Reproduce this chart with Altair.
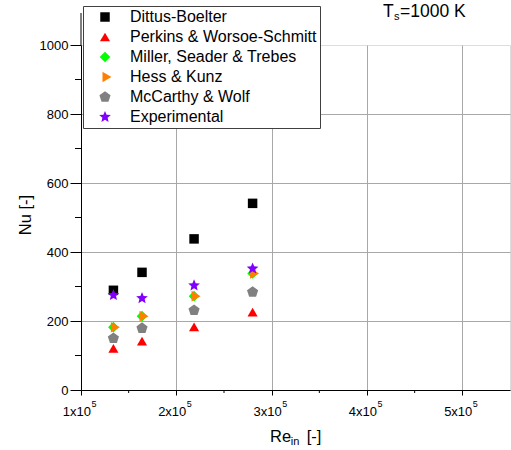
import altair as alt
import pandas as pd

# ---- data ----
re_in = [134000, 164000, 218600, 280000]
series = ["Dittus-Boelter", "Perkins & Worsoe-Schmitt", "Miller, Seader & Trebes",
          "Hess & Kunz", "McCarthy & Wolf", "Experimental"]
nu_dittus = [289, 341, 438, 541]
nu_perkins = [121, 142, 183, 226]
nu_miller = [182, 214, 272, 338]
nu_hess = [182, 214, 272, 338]
nu_mccarthy = [150, 179, 231, 284]
nu_exp = [275, 266, 303, 352]

colors = ["#000000", "#ff0000", "#00ff00", "#ff8000", "#808080", "#8000ff"]
pentagon = "M0,-1L0.951,-0.309L0.588,0.809L-0.588,0.809L-0.951,-0.309Z"
star = ("M0,-1L0.264,-0.364L0.951,-0.309L0.428,0.139L0.588,0.809L0,0.45"
        "L-0.588,0.809L-0.428,0.139L-0.951,-0.309L-0.264,-0.364Z")
tri_right = "M-0.45,-0.95L1.15,0L-0.45,0.95Z"
shapes = ["square", "triangle-up", "diamond", tri_right, pentagon, star]
sizes = [90, 150, 130, 115, 110, 150]

x_ticks = [100000, 200000, 300000, 400000, 500000]
x_mant = ["1x10", "2x10", "3x10", "4x10", "5x10"]
x_exp = ["5", "5", "5", "5", "5"]
x_minor = [150000, 250000, 350000, 450000]
y_ticks = [0, 200, 400, 600, 800, 1000]
y_minor = [100, 300, 500, 700, 900]

FONT = "Liberation Sans"

values = [nu_dittus, nu_perkins, nu_miller, nu_hess, nu_mccarthy, nu_exp]
rows = []
for i, (name, vals) in enumerate(zip(series, values)):
    for r, v in zip(re_in, vals):
        rows.append({"Re": r, "Nu": v, "Series": name, "idx": i})
df = pd.DataFrame(rows)

W, H = 429, 345

xs = alt.Scale(domain=[100000, 550000], nice=False, zero=False)
ys = alt.Scale(domain=[0, 1000], nice=False, zero=False)

x_axis = alt.Axis(
    values=x_ticks, title=None, labels=False,
    tickSize=5, tickColor="black", domainColor="black",
    grid=True, gridColor="#a8a8a8", gridWidth=1,
)
y_axis = alt.Axis(
    values=y_ticks, title=None, format="d", labelFont=FONT, labelFontSize=13,
    labelColor="black", labelPadding=2, tickSize=11, tickColor="black", domainColor="black",
    grid=True, gridColor="#a8a8a8", gridWidth=1,
    gridOpacity={"condition": {"test": "datum.value >= 1000", "value": 0}, "value": 1},
)

legend = alt.Legend(
    title=None, orient="none", legendX=2, legendY=-39,
    fillColor="white", strokeColor="#404040", padding=3,
    labelFont=FONT, labelFontSize=16, labelColor="black", labelLimit=400,
    rowPadding=4, symbolOffset=11, labelOffset=17,
    symbolStrokeWidth=0, symbolOpacity=1,
)

points = alt.Chart(df).mark_point(filled=True, opacity=1, strokeWidth=0).encode(
    x=alt.X("Re:Q", scale=xs, axis=x_axis),
    y=alt.Y("Nu:Q", scale=ys, axis=y_axis),
    color=alt.Color("Series:N", scale=alt.Scale(domain=series, range=colors), legend=legend),
    shape=alt.Shape("Series:N", scale=alt.Scale(domain=series, range=shapes), legend=legend),
    size=alt.Size("Series:N", scale=alt.Scale(domain=series, range=sizes), legend=legend),
    order=alt.Order("idx:Q"),
)

# minor ticks
xm = alt.Chart(pd.DataFrame({"Re": x_minor})).mark_rule(color="black").encode(
    x=alt.X("Re:Q", scale=xs, axis=x_axis), y=alt.value(H), y2=alt.value(H + 3)
)
ym = alt.Chart(pd.DataFrame({"Nu": y_minor})).mark_rule(color="black").encode(
    y=alt.Y("Nu:Q", scale=ys, axis=y_axis), x=alt.value(-6), x2=alt.value(0)
)
# y axis line continuing above 1000
yext = alt.Chart(pd.DataFrame({"a": [0]})).mark_rule(color="black").encode(
    x=alt.value(0), y=alt.value(-32), y2=alt.value(0)
)
# x tick labels: mantissa and superscript exponent
tickdf = pd.DataFrame({"Re": x_ticks, "m": x_mant, "e": x_exp})
mant = alt.Chart(tickdf).mark_text(
    font=FONT, fontSize=13, align="right", baseline="alphabetic", dx=10, color="black"
).encode(x=alt.X("Re:Q", scale=xs, axis=x_axis), y=alt.value(371), text="m:N")
sup = alt.Chart(tickdf).mark_text(
    font=FONT, fontSize=9, align="left", baseline="alphabetic", dx=10.5, color="black"
).encode(x=alt.X("Re:Q", scale=xs, axis=x_axis), y=alt.value(361.5), text="e:N")


def label(txt, x, y, size, angle=0, align="left", baseline="alphabetic"):
    return alt.Chart(pd.DataFrame({"t": [txt]})).mark_text(
        font=FONT, fontSize=size, align=align, baseline=baseline, angle=angle, color="black"
    ).encode(x=alt.value(x), y=alt.value(y), text="t:N")


texts = [
    label("Re", 189, 397, 16.5),
    label("in", 209.7, 400, 11),
    label("[-]", 225.7, 397, 16.5),
    label("Nu [-]", -55, 170, 16.5, angle=270, align="center", baseline="middle"),
    label("T", 302, -28, 17.5),
    label("s", 313, -25, 11),
    label("=1000 K", 319, -28, 17.5),
]

chart = alt.layer(points, xm, ym, yext, mant, sup, *texts).properties(
    width=W, height=H,
    padding={"left": 81, "top": 45, "right": 1, "bottom": 60},
    autosize=alt.AutoSizeParams(type="none"),
).configure_view(stroke=None).configure(background="white")

chart.save("out.html", embed_options={"renderer": "svg", "actions": False})
